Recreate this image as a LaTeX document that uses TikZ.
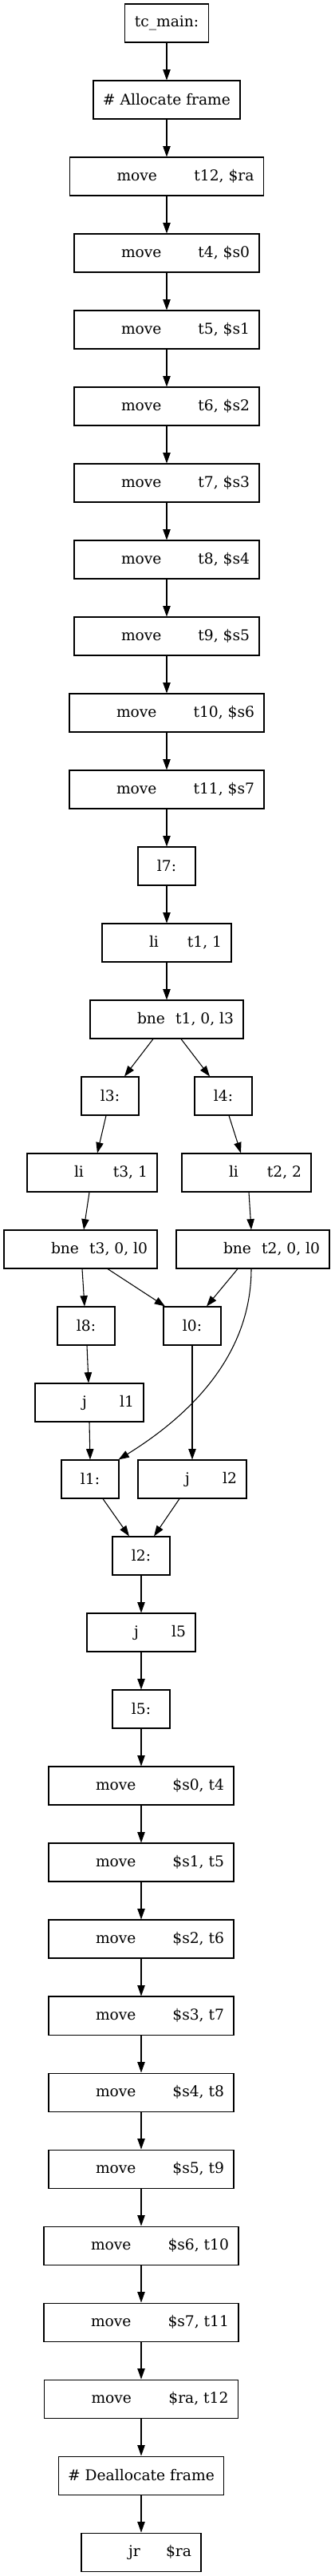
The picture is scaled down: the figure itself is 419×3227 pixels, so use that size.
\documentclass[tikz,border=0pt]{standalone}
\usepackage{fontspec}
\setmainfont{DejaVu Serif}
\usetikzlibrary{arrows.meta,calc}
\newdimen\pxu \pxu=0.75pt
\newcommand\ins[3]{\hbox to \dimexpr #1\pxu-24\pxu\relax{\hspace*{47\pxu}#2\hfill #3}}
\begin{document}
\begin{tikzpicture}[x=0.75pt,y=-0.75pt,
  box/.style={draw, line width=0.8pt, inner xsep=9pt, inner ysep=0pt, minimum height=36pt,
    font=\fontsize{14pt}{16pt}\selectfont},
  lbl/.style={box, minimum width=#1*0.75pt},
  edge/.style={-{Triangle[length=10pt,width=7pt]}, line width=0.8pt}]
\useasboundingbox (0,0) rectangle (419,3227);
% top chain
\node[lbl=104] (tc) at (209,29) {tc\_main:};
\node[lbl=183] (alloc) at (209,125) {\# Allocate frame};
\node[box] (m12) at (209,221) {\ins{243}{move}{t12, \$ra}};
\node[box] (m4) at (209,317) {\ins{232}{move}{t4, \$s0}};
\node[box] (m5) at (209,413) {\ins{232}{move}{t5, \$s1}};
\node[box] (m6) at (209,509) {\ins{232}{move}{t6, \$s2}};
\node[box] (m7) at (209,605) {\ins{232}{move}{t7, \$s3}};
\node[box] (m8) at (209,701) {\ins{232}{move}{t8, \$s4}};
\node[box] (m9) at (209,797) {\ins{232}{move}{t9, \$s5}};
\node[box] (m10) at (209,893) {\ins{244}{move}{t10, \$s6}};
\node[box] (m11) at (209,989) {\ins{244}{move}{t11, \$s7}};
\node[lbl=72] (l7) at (209,1085) {l7:};
\node[box] (li1) at (209,1181) {\ins{162}{li}{t1, 1}};
\node[box] (bne1) at (209,1277) {\ins{192}{bne}{t1, 0, l3}};
% branches
\node[lbl=72] (l3) at (138,1373) {l3:};
\node[lbl=72] (l4) at (280,1373) {l4:};
\node[box] (li3) at (115.5,1469) {\ins{163}{li}{t3, 1}};
\node[box] (li2) at (309,1469) {\ins{162}{li}{t2, 2}};
\node[box] (bne3) at (101,1565) {\ins{192}{bne}{t3, 0, l0}};
\node[box] (bne2) at (317,1565) {\ins{192}{bne}{t2, 0, l0}};
\node[lbl=72] (l8) at (108,1661) {l8:};
\node[lbl=72] (l0) at (241,1661) {l0:};
\node[box] (jl1) at (112,1757) {\ins{136}{j}{l1}};
\node[lbl=72] (l1) at (113,1853) {l1:};
\node[box] (jl2) at (241,1853) {\ins{136}{j}{l2}};
\node[lbl=72] (l2) at (177,1949) {l2:};
% bottom chain
\node[box] (jl5) at (177,2045) {\ins{136}{j}{l5}};
\node[lbl=72] (l5) at (177,2141) {l5:};
\node[box] (ms0) at (177,2237) {\ins{232}{move}{\$s0, t4}};
\node[box] (ms1) at (177,2333) {\ins{232}{move}{\$s1, t5}};
\node[box] (ms2) at (177,2429) {\ins{232}{move}{\$s2, t6}};
\node[box] (ms3) at (177,2525) {\ins{232}{move}{\$s3, t7}};
\node[box] (ms4) at (177,2621) {\ins{232}{move}{\$s4, t8}};
\node[box] (ms5) at (177,2717) {\ins{232}{move}{\$s5, t9}};
\node[box] (ms6) at (177,2813) {\ins{244}{move}{\$s6, t10}};
\node[box] (ms7) at (177,2909) {\ins{244}{move}{\$s7, t11}};
\node[box] (mra) at (177,3005) {\ins{243}{move}{\$ra, t12}};
\node[lbl=206] (dealloc) at (177,3101) {\# Deallocate frame};
\node[box] (jr) at (177,3197) {\ins{150}{jr}{\$ra}};
% edges: straight chains
\foreach \a/\b in {tc/alloc,alloc/m12,m12/m4,m4/m5,m5/m6,m6/m7,m7/m8,m8/m9,m9/m10,m10/m11,m11/l7,l7/li1,li1/bne1,
  l0/jl2,l2/jl5,jl5/l5,l5/ms0,ms0/ms1,ms1/ms2,ms2/ms3,ms3/ms4,ms4/ms5,ms5/ms6,ms6/ms7,ms7/mra,mra/dealloc,dealloc/jr}
  \draw[edge] (\a.south) -- (\b.north);
% branch edges
\draw[edge] ($(bne1.south)+(-17,0)$) -- ($(l3.north)+(18,0)$);
\draw[edge] ($(bne1.south)+(18,0)$) -- ($(l4.north)+(-17,0)$);
\draw[edge] ($(l3.south)+(-5,0)$) -- ($(li3.north)+(6.5,0)$);
\draw[edge] ($(l4.south)+(7,0)$) -- ($(li2.north)+(-7,0)$);
\draw[edge] ($(li3.south)+(-3.5,0)$) -- ($(bne3.north)+(4,0)$);
\draw[edge] ($(li2.south)+(3,0)$) -- ($(bne2.north)+(-2,0)$);
\draw[edge] ($(bne3.south)+(2,0)$) -- ($(l8.north)+(-2,0)$);
\draw[edge] ($(bne3.south)+(34,0)$) -- ($(l0.north)+(-34,0)$);
\draw[edge] ($(bne2.south)+(-19,0)$) -- ($(l0.north)+(18,0)$);
\draw[edge] ($(bne2.south)+(-2,0)$) .. controls (315,1700) and (235,1775) .. ($(l1.north east)+(-1,0)$);
\draw[edge] ($(l8.south)+(1,0)$) -- ($(jl1.north)+(-1,0)$);
\draw[edge] (jl1.south) -- (l1.north);
\draw[edge] ($(l1.south)+(16,0)$) -- ($(l2.north)+(-15,0)$);
\draw[edge] ($(jl2.south)+(-16,0)$) -- ($(l2.north)+(16,0)$);
\end{tikzpicture}
\end{document}
